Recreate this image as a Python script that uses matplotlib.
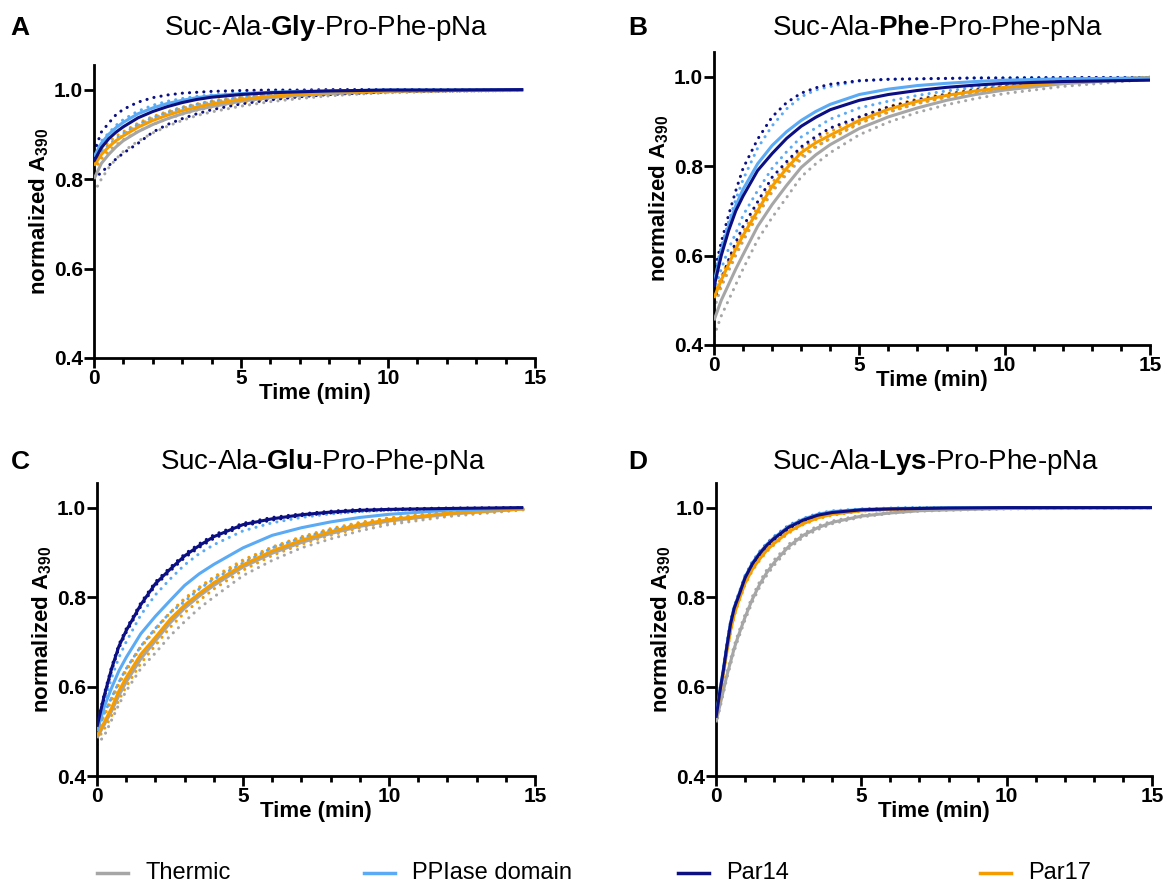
import matplotlib
matplotlib.use("Agg")
import matplotlib.pyplot as plt
import matplotlib.font_manager as fm
from matplotlib.lines import Line2D
from matplotlib.ticker import MultipleLocator

plt.rcParams['font.family'] = ['Liberation Sans', 'DejaVu Sans']
plt.rcParams['mathtext.fontset'] = 'custom'
plt.rcParams['mathtext.rm'] = 'Liberation Sans'
plt.rcParams['mathtext.bf'] = 'Liberation Sans:bold'

_avail = {f.name for f in fm.fontManager.ttflist}
NARROW = 'Liberation Sans Narrow' if 'Liberation Sans Narrow' in _avail else None

# ---------------- data ----------------
series_names = ["Thermic", "PPIase domain", "Par14", "Par17"]
colors = ["#a6a6a6", "#5aaaf5", "#0b0f82", "#f59c00"]

titles_pre = ["Suc-Ala-", "Suc-Ala-", "Suc-Ala-", "Suc-Ala-"]
titles_bold = ["Gly", "Phe", "Glu", "Lys"]
titles_post = ["-Pro-Phe-pNa"] * 4
panel_letters = ["A", "B", "C", "D"]

t_short = [0, 0.25, 0.5, 0.75, 1, 1.5, 2, 2.5, 3, 3.5, 4, 5, 6, 7, 8, 9, 10, 12, 14.6]
t_long = [0, 0.25, 0.5, 0.75, 1, 1.5, 2, 2.5, 3, 3.5, 4, 5, 6, 7, 8, 9, 10, 12, 15]
t_lys = [0, 0.125, 0.25, 0.375, 0.5, 0.625, 0.75, 1, 1.25, 1.5, 1.75, 2, 2.5, 3, 3.5, 4, 5, 6, 7, 8, 10, 12, 15]

# Panel A: Gly
gly_thermic    = [0.80, 0.835, 0.855, 0.872, 0.886, 0.906, 0.922, 0.935, 0.946, 0.955, 0.962, 0.974, 0.982, 0.987, 0.991, 0.994, 0.996, 0.998, 0.999]
gly_thermic_lo = [0.77, 0.80, 0.825, 0.845, 0.862, 0.885, 0.903, 0.918, 0.931, 0.942, 0.950, 0.963, 0.973, 0.980, 0.986, 0.990, 0.993, 0.996, 0.998]
gly_thermic_hi = [0.82, 0.85, 0.87, 0.885, 0.90, 0.92, 0.936, 0.948, 0.958, 0.966, 0.972, 0.982, 0.988, 0.992, 0.995, 0.997, 0.998, 0.999, 1.0]
gly_ppiase     = [0.85, 0.88, 0.90, 0.915, 0.927, 0.946, 0.959, 0.969, 0.976, 0.982, 0.986, 0.991, 0.994, 0.996, 0.997, 0.998, 0.999, 0.999, 1.0]
gly_ppiase_lo  = [0.835, 0.86, 0.876, 0.89, 0.902, 0.922, 0.937, 0.949, 0.959, 0.967, 0.973, 0.982, 0.988, 0.992, 0.995, 0.996, 0.997, 0.998, 0.999]
gly_ppiase_hi  = [0.86, 0.885, 0.903, 0.92, 0.933, 0.952, 0.965, 0.974, 0.980, 0.985, 0.988, 0.993, 0.995, 0.997, 0.998, 0.999, 0.999, 1.0, 1.0]
gly_par14      = [0.84, 0.87, 0.89, 0.905, 0.917, 0.937, 0.951, 0.962, 0.971, 0.978, 0.983, 0.989, 0.993, 0.995, 0.997, 0.998, 0.999, 0.999, 1.0]
gly_par14_lo   = [0.80, 0.815, 0.83, 0.845, 0.858, 0.88, 0.905, 0.922, 0.935, 0.946, 0.955, 0.968, 0.977, 0.984, 0.989, 0.992, 0.995, 0.997, 0.998]
gly_par14_hi   = [0.86, 0.905, 0.925, 0.944, 0.956, 0.972, 0.982, 0.988, 0.992, 0.994, 0.996, 0.998, 0.999, 0.999, 1.0, 1.0, 1.0, 1.0, 1.0]
gly_par17      = [0.83, 0.855, 0.872, 0.886, 0.897, 0.916, 0.931, 0.943, 0.953, 0.961, 0.968, 0.978, 0.985, 0.990, 0.993, 0.995, 0.997, 0.998, 0.999]
gly_par17_lo   = [0.82, 0.845, 0.862, 0.876, 0.888, 0.907, 0.922, 0.935, 0.945, 0.954, 0.961, 0.972, 0.980, 0.986, 0.990, 0.993, 0.995, 0.997, 0.999]
gly_par17_hi   = [0.84, 0.865, 0.882, 0.896, 0.906, 0.925, 0.940, 0.951, 0.961, 0.968, 0.975, 0.984, 0.990, 0.993, 0.996, 0.997, 0.998, 0.999, 1.0]

# Panel B: Phe
phe_thermic    = [0.455, 0.50, 0.535, 0.57, 0.602, 0.665, 0.714, 0.757, 0.797, 0.825, 0.848, 0.884, 0.910, 0.930, 0.947, 0.960, 0.970, 0.984, 0.996]
phe_thermic_lo = [0.42, 0.465, 0.50, 0.535, 0.57, 0.635, 0.685, 0.73, 0.776, 0.805, 0.83, 0.87, 0.898, 0.92, 0.937, 0.951, 0.962, 0.978, 0.994]
phe_thermic_hi = [0.48, 0.53, 0.565, 0.60, 0.632, 0.69, 0.742, 0.782, 0.815, 0.842, 0.862, 0.896, 0.92, 0.94, 0.954, 0.965, 0.974, 0.986, 0.997]
phe_ppiase     = [0.54, 0.61, 0.665, 0.712, 0.748, 0.805, 0.846, 0.877, 0.902, 0.922, 0.938, 0.96, 0.972, 0.98, 0.985, 0.989, 0.992, 0.995, 0.997]
phe_ppiase_lo  = [0.52, 0.57, 0.615, 0.65, 0.69, 0.745, 0.795, 0.832, 0.865, 0.885, 0.905, 0.93, 0.945, 0.958, 0.968, 0.976, 0.982, 0.99, 0.996]
phe_ppiase_hi  = [0.55, 0.62, 0.675, 0.725, 0.77, 0.84, 0.89, 0.928, 0.955, 0.97, 0.978, 0.99, 0.994, 0.995, 0.996, 0.997, 0.997, 0.998, 0.998]
phe_par14      = [0.53, 0.60, 0.655, 0.70, 0.733, 0.79, 0.828, 0.862, 0.889, 0.909, 0.926, 0.947, 0.96, 0.969, 0.976, 0.981, 0.985, 0.989, 0.992]
phe_par14_lo   = [0.50, 0.545, 0.59, 0.63, 0.665, 0.72, 0.775, 0.81, 0.843, 0.866, 0.885, 0.91, 0.932, 0.948, 0.96, 0.97, 0.977, 0.988, 0.997]
phe_par14_hi   = [0.56, 0.63, 0.69, 0.745, 0.795, 0.86, 0.91, 0.942, 0.963, 0.975, 0.983, 0.991, 0.994, 0.995, 0.996, 0.997, 0.997, 0.998, 0.998]
phe_par17      = [0.505, 0.545, 0.58, 0.615, 0.645, 0.70, 0.755, 0.795, 0.83, 0.852, 0.869, 0.902, 0.927, 0.945, 0.958, 0.968, 0.976, 0.988, 0.998]
phe_par17_lo   = [0.497, 0.537, 0.572, 0.607, 0.637, 0.692, 0.747, 0.787, 0.822, 0.844, 0.861, 0.895, 0.921, 0.94, 0.954, 0.965, 0.973, 0.986, 0.997]
phe_par17_hi   = [0.513, 0.553, 0.588, 0.623, 0.653, 0.708, 0.763, 0.803, 0.838, 0.86, 0.877, 0.909, 0.933, 0.95, 0.962, 0.971, 0.979, 0.99, 0.999]

# Panel C: Glu
glu_thermic    = [0.485, 0.515, 0.545, 0.58, 0.61, 0.662, 0.702, 0.742, 0.775, 0.802, 0.826, 0.867, 0.898, 0.922, 0.942, 0.958, 0.97, 0.985, 0.997]
glu_thermic_lo = [0.47, 0.49, 0.525, 0.56, 0.59, 0.64, 0.675, 0.713, 0.745, 0.775, 0.80, 0.848, 0.882, 0.91, 0.93, 0.948, 0.962, 0.98, 0.995]
glu_thermic_hi = [0.50, 0.54, 0.575, 0.61, 0.64, 0.69, 0.73, 0.765, 0.795, 0.82, 0.842, 0.88, 0.91, 0.932, 0.95, 0.965, 0.976, 0.989, 0.998]
glu_ppiase     = [0.50, 0.555, 0.597, 0.635, 0.665, 0.718, 0.757, 0.792, 0.826, 0.852, 0.873, 0.91, 0.938, 0.955, 0.968, 0.978, 0.985, 0.994, 0.999]
glu_ppiase_lo  = [0.495, 0.54, 0.575, 0.61, 0.64, 0.69, 0.73, 0.765, 0.79, 0.818, 0.84, 0.876, 0.91, 0.932, 0.95, 0.963, 0.973, 0.987, 0.998]
glu_ppiase_hi  = [0.50, 0.565, 0.62, 0.665, 0.70, 0.76, 0.805, 0.84, 0.872, 0.897, 0.917, 0.948, 0.966, 0.978, 0.986, 0.991, 0.994, 0.997, 0.999]
glu_par14      = [0.51, 0.58, 0.64, 0.69, 0.725, 0.783, 0.83, 0.862, 0.892, 0.915, 0.935, 0.962, 0.975, 0.984, 0.99, 0.994, 0.996, 0.998, 1.0]
glu_par14_lo   = [0.506, 0.576, 0.636, 0.686, 0.721, 0.779, 0.826, 0.858, 0.888, 0.911, 0.931, 0.959, 0.972, 0.982, 0.988, 0.992, 0.995, 0.997, 0.999]
glu_par14_hi   = [0.514, 0.584, 0.644, 0.694, 0.729, 0.787, 0.834, 0.866, 0.896, 0.919, 0.939, 0.965, 0.978, 0.986, 0.992, 0.996, 0.997, 0.999, 1.0]
glu_par17      = [0.49, 0.52, 0.552, 0.59, 0.62, 0.672, 0.71, 0.75, 0.782, 0.808, 0.832, 0.872, 0.903, 0.927, 0.946, 0.962, 0.973, 0.987, 0.997]
glu_par17_lo   = [0.48, 0.505, 0.535, 0.57, 0.60, 0.652, 0.692, 0.732, 0.765, 0.792, 0.818, 0.86, 0.893, 0.918, 0.938, 0.955, 0.967, 0.983, 0.996]
glu_par17_hi   = [0.50, 0.535, 0.568, 0.605, 0.635, 0.688, 0.726, 0.765, 0.797, 0.822, 0.845, 0.883, 0.912, 0.935, 0.953, 0.967, 0.977, 0.99, 0.998]

# Panel D: Lys (finer early sampling)
lys_thermic    = [0.52, 0.555, 0.59, 0.625, 0.655, 0.685, 0.71, 0.755, 0.795, 0.828, 0.855, 0.877, 0.913, 0.938, 0.955, 0.967, 0.981, 0.988, 0.993, 0.995, 0.998, 0.999, 1.0]
lys_thermic_lo = [0.514, 0.549, 0.584, 0.619, 0.649, 0.679, 0.704, 0.749, 0.789, 0.822, 0.849, 0.871, 0.908, 0.934, 0.951, 0.964, 0.979, 0.987, 0.992, 0.994, 0.997, 0.998, 0.999]
lys_thermic_hi = [0.526, 0.561, 0.596, 0.631, 0.661, 0.691, 0.716, 0.761, 0.801, 0.834, 0.861, 0.883, 0.918, 0.942, 0.959, 0.970, 0.983, 0.989, 0.994, 0.996, 0.999, 1.0, 1.0]
lys_ppiase     = [0.532, 0.587, 0.637, 0.692, 0.742, 0.777, 0.799, 0.845, 0.876, 0.899, 0.918, 0.933, 0.958, 0.974, 0.985, 0.991, 0.996, 0.998, 0.999, 1.0, 1.0, 1.0, 1.0]
lys_ppiase_lo  = [0.529, 0.584, 0.634, 0.689, 0.739, 0.774, 0.796, 0.842, 0.873, 0.896, 0.915, 0.930, 0.955, 0.972, 0.983, 0.989, 0.995, 0.997, 0.998, 0.999, 1.0, 1.0, 1.0]
lys_ppiase_hi  = [0.535, 0.590, 0.640, 0.695, 0.745, 0.780, 0.802, 0.848, 0.879, 0.902, 0.921, 0.936, 0.961, 0.976, 0.987, 0.993, 0.997, 0.999, 1.0, 1.0, 1.0, 1.0, 1.0]
lys_par14      = [0.53, 0.585, 0.635, 0.69, 0.74, 0.775, 0.797, 0.843, 0.874, 0.897, 0.916, 0.931, 0.956, 0.972, 0.983, 0.989, 0.995, 0.997, 0.998, 0.999, 1.0, 1.0, 1.0]
lys_par14_lo   = [0.527, 0.582, 0.632, 0.687, 0.737, 0.772, 0.794, 0.840, 0.871, 0.894, 0.913, 0.928, 0.953, 0.970, 0.981, 0.988, 0.994, 0.996, 0.997, 0.998, 0.999, 1.0, 1.0]
lys_par14_hi   = [0.533, 0.588, 0.638, 0.693, 0.743, 0.778, 0.800, 0.846, 0.877, 0.900, 0.919, 0.934, 0.959, 0.974, 0.985, 0.990, 0.996, 0.998, 0.999, 1.0, 1.0, 1.0, 1.0]
lys_par17      = [0.53, 0.58, 0.628, 0.678, 0.725, 0.76, 0.786, 0.831, 0.862, 0.885, 0.905, 0.92, 0.946, 0.964, 0.977, 0.985, 0.993, 0.996, 0.998, 0.999, 1.0, 1.0, 1.0]
lys_par17_lo   = [0.527, 0.577, 0.625, 0.675, 0.722, 0.757, 0.783, 0.828, 0.859, 0.882, 0.902, 0.917, 0.943, 0.962, 0.975, 0.983, 0.992, 0.995, 0.997, 0.998, 0.999, 1.0, 1.0]
lys_par17_hi   = [0.533, 0.583, 0.631, 0.681, 0.728, 0.763, 0.789, 0.834, 0.865, 0.888, 0.908, 0.923, 0.949, 0.966, 0.979, 0.987, 0.994, 0.997, 0.999, 1.0, 1.0, 1.0, 1.0]

panels = [
    (t_short, [(gly_thermic, gly_thermic_lo, gly_thermic_hi), (gly_par17, gly_par17_lo, gly_par17_hi),
               (gly_ppiase, gly_ppiase_lo, gly_ppiase_hi), (gly_par14, gly_par14_lo, gly_par14_hi)]),
    (t_long, [(phe_thermic, phe_thermic_lo, phe_thermic_hi), (phe_par17, phe_par17_lo, phe_par17_hi),
              (phe_ppiase, phe_ppiase_lo, phe_ppiase_hi), (phe_par14, phe_par14_lo, phe_par14_hi)]),
    (t_short, [(glu_thermic, glu_thermic_lo, glu_thermic_hi), (glu_par17, glu_par17_lo, glu_par17_hi),
               (glu_ppiase, glu_ppiase_lo, glu_ppiase_hi), (glu_par14, glu_par14_lo, glu_par14_hi)]),
    (t_lys, [(lys_thermic, lys_thermic_lo, lys_thermic_hi), (lys_par17, lys_par17_lo, lys_par17_hi),
             (lys_ppiase, lys_ppiase_lo, lys_ppiase_hi), (lys_par14, lys_par14_lo, lys_par14_hi)]),
]
draw_colors = [colors[0], colors[3], colors[1], colors[2]]

# ---------------- layout ----------------
W, H = 1167, 883
fig = plt.figure(figsize=(W / 100, H / 100), dpi=100)

# (left, right, bottom, top) in pixels
boxes = [(94, 535, 358, 65), (714, 1150, 345, 52), (97, 535, 776, 483), (716, 1152, 776, 483)]
letter_pos = [(20, 28), (638, 28), (20, 462), (638, 462)]
title_center = [(326, 28), (937, 28), (323, 462), (936, 462)]

DOT = (0, (0.05, 2.3))

for i, (box, (tt, sers)) in enumerate(zip(boxes, panels)):
    l, r, b, t = box
    ax = fig.add_axes([l / W, 1 - b / H, (r - l) / W, (b - t) / H])
    for (m, lo, hi), c in zip(sers, draw_colors):
        ax.plot(tt, lo, color=c, lw=2.2, linestyle=DOT, dash_capstyle='round', zorder=2)
        ax.plot(tt, hi, color=c, lw=2.2, linestyle=DOT, dash_capstyle='round', zorder=2)
        ax.plot(tt, m, color=c, lw=2.2, solid_capstyle='butt', solid_joinstyle='round', zorder=3)
    ax.set_xlim(0, 15)
    ax.set_ylim(0.4, 1.055)
    ax.set_xticks([0, 5, 10, 15])
    ax.xaxis.set_minor_locator(MultipleLocator(1))
    ax.set_yticks([0.4, 0.6, 0.8, 1.0])
    ax.set_yticklabels(["0.4", "0.6", "0.8", "1.0"])
    for s in ["top", "right"]:
        ax.spines[s].set_visible(False)
    for s in ["left", "bottom"]:
        ax.spines[s].set_linewidth(2.0)
    ax.tick_params(which='major', length=7, width=2.0, pad=1, labelsize=15)
    ax.tick_params(which='minor', axis='x', length=4.5, width=2.0)
    for lab in ax.get_xticklabels() + ax.get_yticklabels():
        lab.set_fontweight('bold')
    ax.set_xlabel("Time (min)", fontsize=16, fontweight='bold', labelpad=-4)
    ax.set_ylabel(r"normalized A$_{\mathbf{390}}$", fontsize=16, fontweight='bold', labelpad=2)
    ax.patch.set_alpha(0)

    lx, ly = letter_pos[i]
    fig.text(lx / W, 1 - ly / H, panel_letters[i], fontsize=19, fontweight='bold', ha='center', va='center')
    cx, cy = title_center[i]
    fig.text(cx / W, 1 - cy / H,
             titles_pre[i] + r"$\mathbf{" + titles_bold[i] + r"}$" + titles_post[i],
             fontsize=20, ha='center', va='center')

# ---------------- legend ----------------
leg_line_x = [97, 364, 678, 980]
leg_y = 873
for name, c, x0 in zip(series_names, colors, leg_line_x):
    fig.add_artist(Line2D([x0 / W, (x0 + 31) / W], [1 - leg_y / H] * 2, color=c, lw=2.5,
                          transform=fig.transFigure))
    if NARROW:
        fig.text((x0 + 48) / W, 1 - leg_y / H, name, fontsize=20, family=NARROW, ha='left', va='center')
    else:
        fig.text((x0 + 48) / W, 1 - leg_y / H, name, fontsize=17, ha='left', va='center')

fig.savefig("out.png", dpi=100)
